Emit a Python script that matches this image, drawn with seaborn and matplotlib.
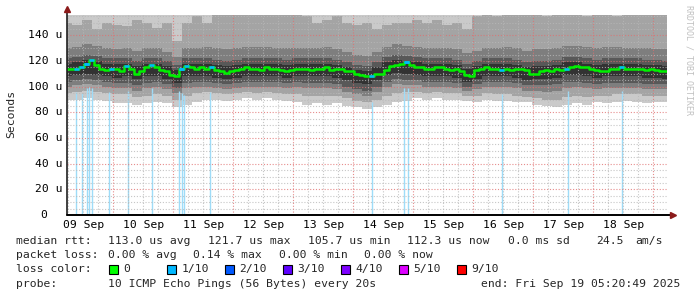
import matplotlib
matplotlib.use("Agg")
import matplotlib.pyplot as plt
import matplotlib.transforms as mtransforms
from matplotlib.patches import Rectangle
import numpy as np
import pandas as pd
import seaborn as sns
from datetime import datetime

# ---------------- data ----------------
START = datetime(2025, 9, 9, 5, 20, 49)
SPAN_HOURS = 240

# median rtt in microseconds, one value every 2 hours
median_us = [113.8, 113.8, 113.8, 115.6, 118, 121, 117, 114, 113, 114,
             114, 112, 116, 114, 110, 112, 115, 117, 115.5, 113,
             112, 109, 108, 114, 116, 115, 114, 115.5, 114, 115.5,
             113, 112, 111, 112, 113, 114, 115, 114, 114, 113,
             115, 114, 114, 113, 112, 113, 114, 114, 114, 113,
             114, 114, 115, 113, 114, 114, 112, 112, 110, 109,
             108, 108, 110, 110, 113, 116, 117, 118, 119.5, 117,
             115.5, 115.5, 114, 114, 115.5, 115, 114, 113, 114, 112,
             109, 108, 113, 114, 115, 114, 114, 113, 114, 113,
             114, 114, 113, 110, 110, 112, 113, 112, 114, 113,
             114, 115, 116, 115.5, 115, 114, 113, 112, 112, 114,
             114, 115, 114, 114, 114, 114, 113, 114, 113, 112,
             112]

# sorted ping rtts (smoke), one value every 4 hours
ping1 = [90, 90, 91, 90, 89, 87, 87, 86, 87, 88,
         87, 84, 86, 88, 90, 90, 89, 90, 91, 90,
         91, 90, 89, 88, 86, 87, 86, 87, 85, 84,
         83, 84, 86, 88, 89, 91, 90, 91, 90, 90,
         89, 88, 90, 89, 89, 88, 88, 86, 85, 84,
         86, 87, 86, 88, 87, 88, 89, 88, 87, 88,
         88]
ping2 = [95, 96, 97, 96, 95, 94, 94, 92, 93, 94,
         93, 90, 93, 95, 96, 95, 94, 95, 96, 95,
         96, 95, 94, 94, 93, 93, 93, 93, 91, 89,
         88, 90, 93, 95, 96, 96, 95, 96, 95, 95,
         93, 93, 95, 94, 94, 93, 92, 91, 90, 90,
         92, 93, 92, 93, 93, 94, 94, 94, 93, 93,
         93]
ping3 = [100, 101, 102, 101, 100, 99, 99, 97, 99, 100,
         98, 95, 99, 100, 100, 99, 98, 99, 100, 100,
         100, 100, 99, 100, 99, 99, 99, 98, 96, 94,
         93, 96, 100, 102, 101, 101, 100, 100, 100, 99,
         97, 98, 100, 100, 100, 99, 97, 97, 96, 97,
         99, 100, 99, 98, 99, 99, 99, 99, 98, 98,
         98]
ping4 = [104, 105, 106, 105, 104, 103, 103, 101, 103, 104,
         102, 99, 103, 104, 104, 103, 102, 103, 104, 104,
         104, 104, 103, 104, 103, 103, 103, 102, 100, 98,
         97, 100, 104, 106, 105, 105, 104, 104, 104, 103,
         100, 102, 104, 104, 104, 103, 101, 101, 101, 102,
         104, 104, 103, 102, 103, 103, 103, 103, 102, 102,
         102]
ping5 = [108, 109, 110, 109, 108, 107, 108, 106, 108, 108,
         106, 103, 108, 108, 108, 107, 106, 107, 108, 108,
         108, 108, 107, 108, 108, 108, 108, 107, 105, 103,
         102, 105, 109, 111, 110, 109, 108, 108, 108, 107,
         104, 106, 108, 108, 108, 107, 105, 106, 106, 107,
         109, 109, 108, 107, 108, 108, 108, 108, 107, 107,
         106]
ping6 = [118, 119, 121, 120, 118, 118, 118, 116, 118, 118,
         116, 113, 118, 118, 118, 117, 116, 117, 118, 118,
         118, 118, 117, 118, 118, 118, 118, 117, 115, 113,
         112, 115, 119, 121, 120, 119, 118, 118, 118, 117,
         114, 116, 118, 118, 118, 117, 115, 116, 116, 117,
         119, 119, 118, 117, 118, 118, 118, 118, 117, 117,
         116]
ping7 = [122, 123, 125, 124, 122, 122, 122, 120, 122, 122,
         120, 117, 122, 122, 122, 121, 120, 121, 122, 122,
         122, 122, 121, 122, 122, 122, 122, 121, 119, 117,
         116, 119, 123, 125, 124, 123, 122, 122, 122, 121,
         118, 120, 122, 122, 122, 121, 119, 120, 120, 121,
         123, 123, 122, 121, 122, 122, 122, 122, 121, 121,
         120]
ping8 = [130, 131, 133, 132, 130, 129, 130, 128, 130, 130,
         127, 123, 130, 130, 131, 130, 129, 130, 131, 131,
         131, 130, 130, 130, 130, 130, 131, 129, 127, 125,
         124, 127, 131, 133, 132, 131, 130, 130, 130, 129,
         126, 128, 130, 130, 131, 130, 128, 129, 129, 130,
         132, 132, 131, 130, 131, 131, 130, 130, 130, 129,
         129]
ping9 = [150, 148, 152, 145, 150, 148, 147, 152, 150, 146,
         150, 136, 150, 155, 150, 158, 160, 160, 160, 158,
         160, 160, 158, 160, 155, 150, 152, 155, 150, 148,
         150, 145, 148, 150, 150, 152, 150, 152, 148, 150,
         145, 155, 158, 155, 156, 158, 160, 158, 155, 158,
         160, 158, 155, 158, 158, 155, 156, 160, 158, 156,
         156]
ping10 = [170, 175, 168, 172, 180, 175, 170, 166, 172, 178,
          175, 165, 170, 178, 182, 180, 176, 175, 180, 178,
          182, 176, 175, 180, 178, 172, 170, 175, 172, 168,
          170, 166, 170, 174, 172, 176, 172, 175, 170, 172,
          165, 174, 178, 176, 180, 182, 178, 176, 175, 180,
          182, 178, 175, 180, 178, 176, 178, 182, 180, 178,
          176]

# hours (from start) with 1/10 packet loss, and top of the loss marks
loss_hours = [3.8, 6.1, 8.1, 8.9, 10.3, 17.1, 24.7, 34.1, 45.1, 46.1,
              47.1, 57.5, 122.3, 135.1, 136.5, 174.3, 200.7, 222.1]
loss_tops = [96, 95, 98.7, 99.5, 98.7, 96, 97, 98.7, 97, 95,
             93.5, 96, 88.3, 98.7, 98.7, 94.3, 96.3, 96.3]

y_ticks = [0, 20, 40, 60, 80, 100, 120, 140]
y_tick_labels = ["0", "20 u", "40 u", "60 u", "80 u", "100 u", "120 u", "140 u"]
day_labels = ["09 Sep", "10 Sep", "11 Sep", "12 Sep", "13 Sep",
              "14 Sep", "15 Sep", "16 Sep", "17 Sep", "18 Sep"]

rtt_row = ["median rtt:", "113.0 us avg", "121.7 us max", "105.7 us min",
           "112.3 us now", "0.0 ms sd", "24.5", "am/s"]
loss_row = ["packet loss:", "0.00 % avg", "0.14 % max", "0.00 % min", "0.00 % now"]
loss_levels = ["0", "1/10", "2/10", "3/10", "4/10", "5/10", "9/10"]
loss_colors = ["#00ff00", "#00b8ff", "#0059ff", "#5e00ff", "#7e00ff", "#dd00ff", "#ff0000"]
probe_text = "10 ICMP Echo Pings (56 Bytes) every 20s"
end_text = "end: Fri Sep 19 05:20:49 2025"

# ---------------- style ----------------
sns.set_style("white")
plt.rcParams["font.family"] = ["DejaVu Sans Mono"]
FS = 8.2
W, H = 697, 297

fig = plt.figure(figsize=(W / 100, H / 100), dpi=100)
fig.patch.set_facecolor("white")
ax = fig.add_axes([66.5 / W, (H - 215) / H, 600 / W, 200 / H])
ax.set_facecolor("white")
YMAX = 200 / 1.283
ax.set_xlim(0, SPAN_HOURS)
ax.set_ylim(0, YMAX)
for s in ax.spines.values():
    s.set_visible(False)
ax.set_xticks([])
ax.set_yticks([])

h2 = np.arange(len(median_us)) * 2.0
h4 = np.arange(len(ping1)) * 4.0

# smoke layers (outer -> inner)
pings = [ping1, ping2, ping3, ping4, ping5, ping6, ping7, ping8, ping9, ping10]
smoke_colors = ["#cacaca", "#a4a4a4", "#7e7e7e", "#585858", "#323232"]
for i, col in enumerate(smoke_colors):
    ax.fill_between(h4, pings[i], pings[9 - i], step="mid", color=col,
                    lw=0, zorder=2 + i)

# loss marks
ax.vlines(loss_hours, 0, loss_tops, color="#9edcf8", lw=1.0, zorder=8)

# grid
first_6h = (datetime(2025, 9, 9, 6, 0) - START).total_seconds() / 3600
first_mid = (datetime(2025, 9, 10, 0, 0) - START).total_seconds() / 3600
dots = (0, (1, 1.6))
for v in range(5, int(YMAX) + 1, 5):
    if v % 20 == 0:
        ax.axhline(v, color="#e07070", lw=0.8, ls=dots, alpha=0.8, zorder=9)
    else:
        ax.axhline(v, color="#b8b8b8", lw=0.8, ls=dots, alpha=0.8, zorder=9)
h = first_6h
while h < SPAN_HOURS:
    k = (h - first_mid) / 24
    if abs(k - round(k)) < 1e-6:
        ax.axvline(h, color="#e07070", lw=0.8, ls=dots, alpha=0.8, zorder=9)
    else:
        ax.axvline(h, color="#b8b8b8", lw=0.8, ls=dots, alpha=0.8, zorder=9)
    h += 6

# median line
df = pd.DataFrame({"hours": h2, "median": median_us})
sns.lineplot(data=df, x="hours", y="median", ax=ax, color="#00f000",
             lw=1.8, drawstyle="steps-mid", estimator=None, zorder=12)
ax.set_xlabel("")
ax.set_ylabel("")
for lh in loss_hours:
    idx = int(round(lh / 2))
    ax.plot([idx * 2 - 1, idx * 2 + 1], [median_us[idx], median_us[idx]],
            color="#00b8ff", lw=1.8, zorder=13, solid_capstyle="butt")

# axes lines with arrows
ax.plot([0, 0], [0, YMAX * 1.02], color="#202020", lw=1.2, clip_on=False, zorder=14)
ax.plot([0, 1.008], [0, 0], color="black", lw=1.4, clip_on=False, zorder=14,
        transform=ax.transAxes)
ax.plot([0], [1.03], marker="^", color="#8b1a1a", ms=4.5, clip_on=False,
        transform=ax.transAxes, zorder=15)
ax.plot([1.011], [0], marker=">", color="#8b1a1a", ms=4.5, clip_on=False,
        transform=ax.transAxes, zorder=15)

# tick labels
ytrans = mtransforms.blended_transform_factory(fig.transFigure, ax.transData)
for v, lab in zip(y_ticks, y_tick_labels):
    xr = 62 if v != 0 else 47.5
    ax.text(xr / W, v, lab, transform=ytrans, ha="right", va="center",
            fontsize=FS, color="black")
xtrans = mtransforms.blended_transform_factory(ax.transData, fig.transFigure)
first_noon = (datetime(2025, 9, 9, 12, 0) - START).total_seconds() / 3600
for d, lab in enumerate(day_labels):
    ax.text(first_noon + 24 * d, 1 - 225 / H, lab, transform=xtrans,
            ha="center", va="center", fontsize=FS, color="black")

fig.text(11 / W, 1 - 114 / H, "Seconds", rotation=90, ha="center",
         va="center", fontsize=FS)
fig.text(689 / W, 1 - 60 / H, "RRDTOOL / TOBI OETIKER", rotation=270,
         ha="center", va="center", fontsize=6, color="#c0c0c0")

# legend / comments
def ftext(x, y, s, **kw):
    fig.text(x / W, 1 - y / H, s, va="center", fontsize=FS, **kw)

rtt_x = [16, 108, 207.5, 307.5, 407.5, 507.5, 596, 635.5]
for x, s in zip(rtt_x, rtt_row):
    ftext(x, 241, s)
loss_x = [16, 108, 193.5, 279, 364.5]
for x, s in zip(loss_x, loss_row):
    ftext(x, 255, s)
ftext(16, 269, "loss color:")
for i, (lab, col) in enumerate(zip(loss_levels, loss_colors)):
    bx = 108.5 + 58 * i
    fig.add_artist(Rectangle((bx / W, 1 - 273.5 / H), 9 / W, 9 / H,
                             transform=fig.transFigure, facecolor=col,
                             edgecolor="black", lw=0.8))
    ftext(bx + 15, 269, lab)
ftext(16, 284, "probe:")
ftext(108, 284, probe_text)
ftext(680, 284, end_text, ha="right")

fig.savefig("out.png", dpi=100, facecolor="white")
